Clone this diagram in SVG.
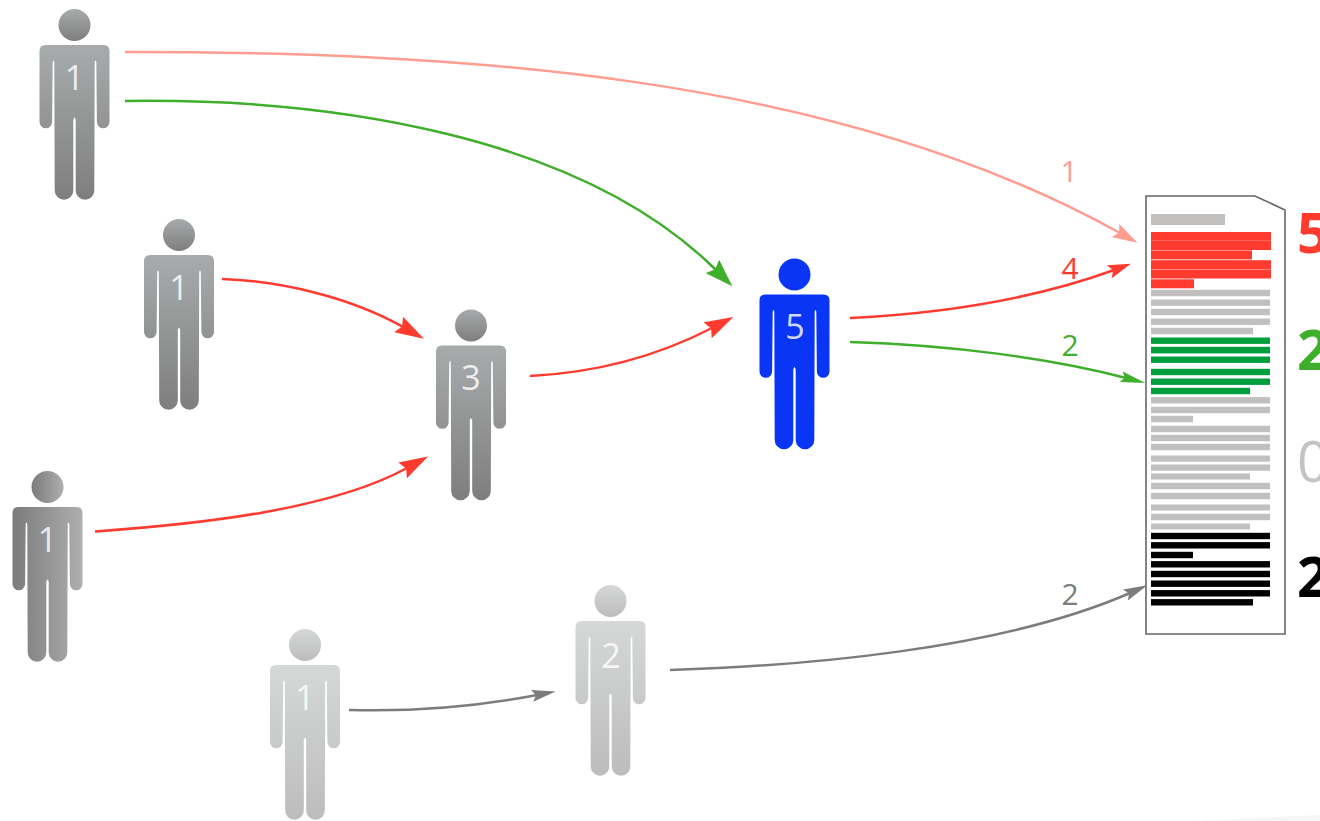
<svg xmlns="http://www.w3.org/2000/svg" width="1320" height="821" viewBox="0 0 1320 821">
<style>
text{font-family:"Open Sans","Liberation Sans",sans-serif}
.n{font-size:34px;fill:#fff;fill-opacity:.82;text-anchor:middle}
.l{font-size:30px;text-anchor:middle}
.b{font-size:56px;font-weight:700}
.c{fill:none;stroke-width:2.5}
.red{fill:#ff3b30}.grn{fill:#009e3d}.gry{fill:#c2bfbf}.blk{fill:#000}
.dark{fill:url(#gd)}.side{fill:url(#gs)}.light{fill:url(#gl)}.blue{fill:#0b35f5}
</style>
<defs>
<linearGradient id="gd" x1="0" y1="0" x2="0" y2="1"><stop offset="0" stop-color="#a8abac"/><stop offset="1" stop-color="#7e7e7e"/></linearGradient>
<linearGradient id="gs" x1="0" y1="0" x2="1" y2="0"><stop offset="0" stop-color="#7b7b7c"/><stop offset="1" stop-color="#adaeae"/></linearGradient>
<linearGradient id="gl" x1="0" y1="0" x2="0" y2="1"><stop offset="0" stop-color="#d6d8d8"/><stop offset="1" stop-color="#bcbcbc"/></linearGradient>
<g id="person">
<circle cx="0" cy="0" r="16"/>
<path d="M-29,20H29Q35,20 35,26V97A6.3,6.3 0 0 1 22.4,97L21.8,37Q21,34 20.2,37L19.8,165.5A9.3,9.3 0 0 1 1.2,165.5V95Q0,90 -1.2,95V165.5A9.3,9.3 0 0 1 -19.8,165.5L-20.2,37Q-21,34 -21.8,37L-22.4,97A6.3,6.3 0 0 1 -35,97V26Q-35,20 -29,20Z"/>
</g>
<marker id="a-green-l" markerUnits="userSpaceOnUse" markerWidth="28" markerHeight="19" viewBox="0 0 28 19" refX="5" refY="9.5" orient="auto"><path d="M28,9.5L0,0L4,9.5L0,19Z" fill="#3fae2a"/></marker>
<marker id="a-red-l" markerUnits="userSpaceOnUse" markerWidth="29" markerHeight="18" viewBox="0 0 29 18" refX="5" refY="9" orient="auto"><path d="M29,9L0,0L4,9L0,18Z" fill="#ff3b30"/></marker>
<marker id="a-pink" markerUnits="userSpaceOnUse" markerWidth="25" markerHeight="15" viewBox="0 0 25 15" refX="5" refY="7.5" orient="auto"><path d="M25,7.5L0,0L4,7.5L0,15Z" fill="#ff9e90"/></marker>
<marker id="a-red-s" markerUnits="userSpaceOnUse" markerWidth="23" markerHeight="14" viewBox="0 0 23 14" refX="5" refY="7" orient="auto"><path d="M23,7L0,0L4,7L0,14Z" fill="#ff3b30"/></marker>
<marker id="a-green-s" markerUnits="userSpaceOnUse" markerWidth="25" markerHeight="11" viewBox="0 0 25 11" refX="5" refY="5.5" orient="auto"><path d="M25,5.5L0,0L4,5.5L0,11Z" fill="#3fae2a"/></marker>
<marker id="a-gray" markerUnits="userSpaceOnUse" markerWidth="24" markerHeight="12" viewBox="0 0 24 12" refX="5" refY="6" orient="auto"><path d="M24,6L0,0L4,6L0,12Z" fill="#7c7c7c"/></marker>
</defs>
<rect width="1320" height="821" fill="#fff"/>
<polygon points="1190,821 1320,815 1320,821" fill="#f6f6f6"/>

<g id="connectors">
<path class="c" stroke="#ff9e90" marker-end="url(#a-pink)" d="M125,52C450,52 830,72 1120,233"/>
<path class="c" stroke="#3fae2a" marker-end="url(#a-green-l)" d="M125,101C330,98 580,135 716,270"/>
<path class="c" stroke="#ff3b30" marker-end="url(#a-red-l)" d="M222,279C280,281 350,297 403,327"/>
<path class="c" stroke="#ff3b30" marker-end="url(#a-red-l)" d="M95,531.5C200,524 330,510 407,468"/>
<path class="c" stroke="#ff3b30" marker-end="url(#a-red-l)" d="M530,376C590,373 650,360 712,328"/>
<path class="c" stroke="#ff3b30" marker-end="url(#a-red-s)" d="M850,318C950,313 1040,297 1114,270"/>
<path class="c" stroke="#3fae2a" marker-end="url(#a-green-s)" d="M850,342C950,345 1050,358 1126,378"/>
<path class="c" stroke="#7c7c7c" marker-end="url(#a-gray)" d="M349,710C420,712 480,706 537,695"/>
<path class="c" stroke="#7c7c7c" marker-end="url(#a-gray)" d="M670,670C800,666 1000,650 1130,593"/>
</g>

<g id="person-a"><use href="#person" x="74.5" y="25" class="dark"/><text class="n" x="74.5" y="90">1</text></g>
<g id="person-b"><use href="#person" x="179" y="235" class="dark"/><text class="n" x="179" y="300">1</text></g>
<g id="person-c"><use href="#person" x="47.5" y="487" class="side"/><text class="n" x="47.5" y="552">1</text></g>
<g id="person-d"><use href="#person" x="471" y="325.5" class="dark"/><text class="n" x="471" y="390">3</text></g>
<g id="person-e"><use href="#person" x="794.5" y="274.5" class="blue"/><text class="n" x="795" y="339">5</text></g>
<g id="person-f"><use href="#person" x="305" y="645" class="light"/><text class="n" x="305" y="710">1</text></g>
<g id="person-g"><use href="#person" x="610.5" y="601" class="light"/><text class="n" x="611" y="668">2</text></g>

<g id="link-labels">
<text class="l" x="1069" y="182" fill="#ff9e90">1</text>
<text class="l" x="1070" y="279" fill="#ff3b30">4</text>
<text class="l" x="1070" y="356" fill="#3fae2a">2</text>
<text class="l" x="1070" y="605" fill="#7c7c7c">2</text>
</g>

<g id="document">
<path d="M1146,196H1255L1285,210V634H1146Z" fill="#fff" stroke="#666" stroke-width="1.6"/>
<rect class="gry" x="1151" y="214" width="74" height="11"/>
<rect class="red" x="1151" y="232" width="120" height="8.8"/>
<rect class="red" x="1151" y="241" width="120" height="9"/>
<rect class="red" x="1151" y="250.4" width="101" height="9"/>
<rect class="red" x="1151" y="260.2" width="120" height="9"/>
<rect class="red" x="1151" y="269.5" width="120" height="9"/>
<rect class="red" x="1151" y="279.3" width="43" height="9"/>
<rect class="gry" x="1151" y="289.8" width="119" height="6.4"/>
<rect class="gry" x="1151" y="299.5" width="119" height="6.4"/>
<rect class="gry" x="1151" y="308.8" width="119" height="6.4"/>
<rect class="gry" x="1151" y="318.5" width="119" height="6.4"/>
<rect class="gry" x="1151" y="327.8" width="102" height="6.4"/>
<rect class="grn" x="1151" y="337.5" width="119" height="6.4"/>
<rect class="grn" x="1151" y="346.8" width="119" height="6.6"/>
<rect class="grn" x="1151" y="356.5" width="119" height="6.4"/>
<rect class="grn" x="1151" y="368.8" width="119" height="6.4"/>
<rect class="grn" x="1151" y="378.5" width="119" height="6.4"/>
<rect class="grn" x="1151" y="387.8" width="99" height="6.4"/>
<rect class="gry" x="1151" y="397.1" width="119" height="6.4"/>
<rect class="gry" x="1151" y="406.8" width="119" height="6.4"/>
<rect class="gry" x="1151" y="415.8" width="42" height="6.4"/>
<rect class="gry" x="1151" y="425.8" width="119" height="6.4"/>
<rect class="gry" x="1151" y="434.8" width="119" height="6.4"/>
<rect class="gry" x="1151" y="443.8" width="119" height="6.4"/>
<rect class="gry" x="1151" y="455.5" width="119" height="6.2"/>
<rect class="gry" x="1151" y="464.5" width="119" height="6.2"/>
<rect class="gry" x="1151" y="473.5" width="99" height="6"/>
<rect class="gry" x="1151" y="482.8" width="119" height="6.4"/>
<rect class="gry" x="1151" y="492.8" width="119" height="6.4"/>
<rect class="gry" x="1151" y="504.5" width="119" height="6"/>
<rect class="gry" x="1151" y="513.8" width="119" height="6.4"/>
<rect class="gry" x="1151" y="523.5" width="99" height="6"/>
<rect class="blk" x="1151" y="532.8" width="119" height="6.4"/>
<rect class="blk" x="1151" y="542.1" width="119" height="6.4"/>
<rect class="blk" x="1151" y="551.8" width="42" height="6.4"/>
<rect class="blk" x="1151" y="561.1" width="119" height="6.4"/>
<rect class="blk" x="1151" y="570.8" width="119" height="6.4"/>
<rect class="blk" x="1151" y="580.5" width="119" height="6.4"/>
<rect class="blk" x="1151" y="590.1" width="119" height="6.4"/>
<rect class="blk" x="1151" y="599.1" width="102" height="6.4"/>
</g>

<g id="totals">
<text class="b" x="1297" y="253" fill="#ff3b30">5</text>
<text class="b" x="1297" y="370" fill="#3fae2a">2</text>
<text x="1297" y="482" font-size="56" fill="#c4c2c2">0</text>
<text class="b" x="1297" y="597" fill="#000">2</text>
</g>
</svg>
